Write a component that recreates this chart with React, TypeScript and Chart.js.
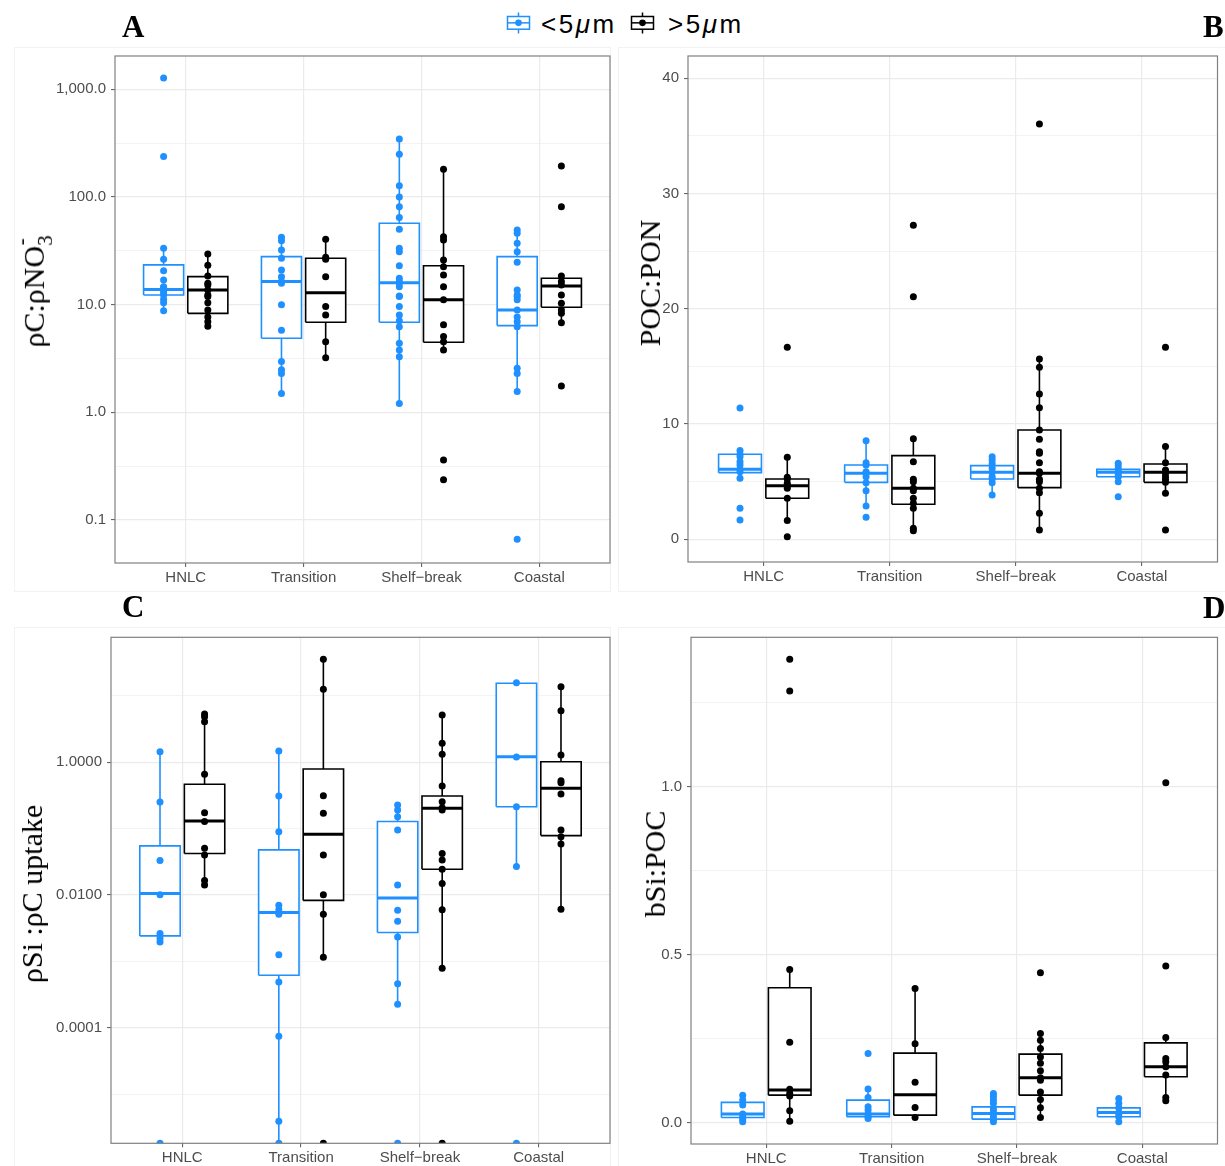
import React, { useEffect, useRef } from 'react';
import { Chart, registerables } from 'chart.js';

Chart.register(...registerables);

const CATEGORIES = ['HNLC', 'Transition', 'Shelf−break', 'Coastal'];
const GROUP_LABELS = ['<5', '>5'];
const BLUE = '#1E90FF';
const BLACK = '#000000';

// ---------- Panel A : pC:pNO3- (log) ----------
const A_SMALL = [
  [1274, 237, 33.4, 26.4, 20.7, 16.9, 14.7, 14.5, 13.5, 12.8, 12.3, 11.2, 10.4, 8.8],
  [42.3, 39.3, 32.2, 27, 21, 18.2, 16.4, 15.8, 10.0, 5.8, 2.96, 2.48, 2.3, 1.5],
  [346, 249, 127, 100, 81.3, 64.3, 50.2, 33.4, 31, 23, 17.6, 16.4, 15.8, 14.7, 12.05, 11.9, 9.6, 8.0, 7.1, 6.25, 4.39, 3.79, 3.29, 1.21],
  [49.4, 46, 37.2, 31, 24.8, 13.7, 12.3, 11.9, 11.1, 8.9, 7.7, 6.95, 6.25, 2.57, 2.3, 1.56, 0.0664],
];
const A_LARGE = [
  [29.6, 23.2, 18.5, 15.8, 15.2, 13.7, 12.3, 11.9, 10.4, 8.9, 7.7, 6.95, 6.3],
  [40.4, 27.5, 26.4, 18.2, 9.6, 8.0, 4.53, 3.22],
  [181, 42.8, 39.9, 26, 22.5, 18.9, 14.7, 11.1, 6.5, 5.05, 4.53, 3.79, 0.361, 0.236],
  [194, 81.3, 18.5, 16.4, 15.2, 12.3, 10.3, 8.9, 8.3, 6.8, 1.76],
];
// [lower whisker, q1, median, q3, upper whisker]
const A_SMALL_BOX = [
  [8.8, 12.3, 13.8, 23.4, 33.4],
  [1.5, 4.87, 16.4, 27.9, 42.3],
  [1.21, 6.86, 16, 57, 346],
  [1.56, 6.39, 8.9, 27.9, 49.4],
];
const A_LARGE_BOX = [
  [6.3, 8.3, 13.7, 18.2, 29.6],
  [3.22, 6.86, 12.9, 27, 40.4],
  [3.79, 4.48, 11.1, 23, 181],
  [6.8, 9.46, 14.9, 17.6, 18.5],
];
const A_TICKS = [0.1, 1, 10, 100, 1000];
const A_TICK_LABELS = ['0.1', '1.0', '10.0', '100.0', '1,000.0'];
const A_MINOR = [0.3162, 3.162, 31.62, 316.2];

// ---------- Panel B : POC:PON (linear) ----------
const B_SMALL = [
  [11.4, 7.7, 7.38, 7.17, 6.73, 6.45, 6.07, 5.87, 5.29, 2.69, 1.67],
  [8.56, 6.65, 6.45, 5.87, 5.73, 5.43, 4.91, 4.22, 2.89, 1.91],
  [7.17, 6.88, 6.55, 6.16, 5.81, 5.43, 5.23, 4.91, 3.84],
  [6.59, 6.36, 6.07, 5.81, 5.6, 5.43, 5.0, 3.7],
];
const B_LARGE = [
  [16.66, 7.11, 5.38, 5.23, 4.86, 4.65, 4.42, 3.56, 1.62, 0.23],
  [27.24, 21.05, 8.73, 6.73, 5.21, 5.0, 4.42, 4.22, 3.56, 3.12, 2.69, 0.95, 0.75],
  [36.04, 15.64, 14.92, 12.6, 11.42, 9.48, 8.68, 7.6, 7.46, 6.65, 5.87, 5.73, 5.21, 5.0, 4.42, 4.04, 2.26, 0.81],
  [16.66, 8.04, 6.65, 6.01, 5.81, 5.73, 5.43, 5.21, 4.94, 3.99, 0.81],
];
const B_SMALL_BOX = [
  [5.29, 5.78, 6.07, 7.38, 7.7],
  [2.89, 4.94, 5.73, 6.45, 8.56],
  [3.84, 5.23, 5.81, 6.39, 7.17],
  [5.0, 5.43, 5.81, 6.07, 6.59],
];
const B_LARGE_BOX = [
  [1.62, 3.56, 4.65, 5.23, 7.11],
  [0.75, 3.04, 4.42, 7.26, 8.73],
  [0.81, 4.48, 5.73, 9.48, 15.64],
  [3.99, 4.94, 5.81, 6.53, 8.04],
];
const B_TICKS = [0, 10, 20, 30, 40];
const B_TICK_LABELS = ['0', '10', '20', '30', '40'];
const B_MINOR = [5, 15, 25, 35];

// ---------- Panel C : pSi:pC uptake (log) ----------
const C_SMALL = [
  [1.44, 0.252, 0.033, 0.0101, 0.00263, 0.00221, 0.00196, 0],
  [1.48, 0.311, 0.09, 0.007, 0.006, 0.00513, 0.00126, 0.000488, 0.0000742, 0.0000039, 0],
  [0.228, 0.191, 0.151, 0.0955, 0.0142, 0.00588, 0.00402, 0.00233, 0.000462, 0.000226, 0],
  [15.8, 1.2, 0.214, 0.0268, 0],
];
const C_LARGE = [
  [5.34, 4.86, 4.09, 0.659, 0.174, 0.128, 0.0507, 0.0402, 0.0166, 0.0142],
  [35.6, 12.6, 0.314, 0.171, 0.0402, 0.0101, 0.00513, 0.00115, 0],
  [5.15, 1.93, 1.32, 0.44, 0.255, 0.207, 0.191, 0.0423, 0.0338, 0.0245, 0.0149, 0.006, 0.00079, 0],
  [13.8, 5.98, 1.29, 0.528, 0.493, 0.333, 0.0955, 0.0758, 0.0589, 0.0061],
];
const C_SMALL_BOX = [
  [0.00196, 0.00242, 0.0105, 0.055, 1.44],
  [0, 0.000617, 0.00543, 0.0478, 1.48],
  [0.000226, 0.00272, 0.00902, 0.128, 0.228],
  [0.0268, 0.214, 1.21, 15.5, 15.8],
];
const C_LARGE_BOX = [
  [0.0142, 0.0423, 0.13, 0.467, 5.34],
  [0.00115, 0.0083, 0.0823, 0.79, 35.6],
  [0.00079, 0.0245, 0.203, 0.311, 5.15],
  [0.0061, 0.0785, 0.406, 1.02, 13.8],
];
const C_TICKS = [0.0001, 0.01, 1];
const C_TICK_LABELS = ['0.0001', '0.0100', '1.0000'];
const C_MINOR = [0.00001, 0.001, 0.1, 10];

// ---------- Panel D : bSi:POC (linear) ----------
const D_SMALL = [
  [0.0824, 0.0676, 0.0527, 0.0259, 0.024, 0.016, 0.01, 0.003],
  [0.2065, 0.101, 0.0756, 0.0476, 0.0378, 0.0259, 0.0179, 0.0129],
  [0.0875, 0.078, 0.068, 0.058, 0.044, 0.035, 0.0278, 0.019, 0.011, 0.003],
  [0.0726, 0.058, 0.0446, 0.031, 0.0259, 0.018, 0.003],
];
const D_LARGE = [
  [1.379, 1.285, 0.4565, 0.24, 0.1, 0.0875, 0.0795, 0.0357, 0.005],
  [0.4, 0.235, 0.121, 0.0458, 0.016],
  [0.4465, 0.266, 0.246, 0.2214, 0.196, 0.177, 0.155, 0.134, 0.127, 0.092, 0.0696, 0.0446, 0.016],
  [1.012, 0.4664, 0.254, 0.1917, 0.1815, 0.1667, 0.142, 0.0756, 0.0655],
];
const D_SMALL_BOX = [
  [0.003, 0.016, 0.0259, 0.0607, 0.0824],
  [0.0129, 0.0179, 0.0259, 0.0676, 0.101],
  [0.003, 0.011, 0.0278, 0.0476, 0.0875],
  [0.003, 0.018, 0.031, 0.0446, 0.0726],
];
const D_LARGE_BOX = [
  [0.005, 0.0824, 0.0973, 0.402, 0.4565],
  [0.016, 0.0229, 0.0833, 0.2074, 0.4],
  [0.016, 0.0824, 0.134, 0.2045, 0.266],
  [0.0655, 0.137, 0.1667, 0.238, 0.254],
];
const D_TICKS = [0, 0.5, 1];
const D_TICK_LABELS = ['0.0', '0.5', '1.0'];
const D_MINOR = [0.25, 0.75, 1.25];

// ---------- layout ----------
const DODGE = 0.1875;
const HALF_W = 0.17;
const TICK_FONT = { family: "'Liberation Sans', Arial, Helvetica, sans-serif", size: 15 };
const TICK_COLOR = '#4D4D4D';
const GRID_COLOR = '#EBEBEB';
const AXIS_TICK_COLOR = '#555555';

type Spec = {
  canvas: { left: number; top: number; width: number; height: number };
  area: { left: number; top: number; right: number; bottom: number };
  log: boolean;
  yMin: number;
  yMax: number;
  ticks: number[];
  labels: string[];
  minor: number[];
  small: number[][];
  large: number[][];
  smallBox: number[][];
  largeBox: number[][];
};

const SPECS: Spec[] = [
  {
    canvas: { left: 0, top: 40, width: 615, height: 560 },
    area: { left: 115, top: 16, right: 610, bottom: 523 },
    log: true, yMin: 0.0399, yMax: 2037,
    ticks: A_TICKS, labels: A_TICK_LABELS, minor: A_MINOR,
    small: A_SMALL, large: A_LARGE, smallBox: A_SMALL_BOX, largeBox: A_LARGE_BOX,
  },
  {
    canvas: { left: 615, top: 40, width: 610, height: 560 },
    area: { left: 73, top: 16, right: 602.5, bottom: 522 },
    log: false, yMin: -1.97, yMax: 41.93,
    ticks: B_TICKS, labels: B_TICK_LABELS, minor: B_MINOR,
    small: B_SMALL, large: B_LARGE, smallBox: B_SMALL_BOX, largeBox: B_LARGE_BOX,
  },
  {
    canvas: { left: 0, top: 620, width: 615, height: 546 },
    area: { left: 111, top: 17.3, right: 610, bottom: 523.3 },
    log: true, yMin: 1.815e-6, yMax: 76.4,
    ticks: C_TICKS, labels: C_TICK_LABELS, minor: C_MINOR,
    small: C_SMALL, large: C_LARGE, smallBox: C_SMALL_BOX, largeBox: C_LARGE_BOX,
  },
  {
    canvas: { left: 615, top: 620, width: 610, height: 546 },
    area: { left: 76, top: 17.3, right: 602.5, bottom: 524 },
    log: false, yMin: -0.063, yMax: 1.4446,
    ticks: D_TICKS, labels: D_TICK_LABELS, minor: D_MINOR,
    small: D_SMALL, large: D_LARGE, smallBox: D_SMALL_BOX, largeBox: D_LARGE_BOX,
  },
];

const near = (a: number, b: number) => Math.abs(a - b) <= Math.abs(b) * 1e-6 + 1e-12;

const borderPlugin = {
  id: 'panelBorder',
  afterDatasetsDraw(chart: any) {
    const { ctx, chartArea: a } = chart;
    ctx.save();
    ctx.strokeStyle = '#808080';
    ctx.lineWidth = 1.2;
    ctx.strokeRect(a.left, a.top, a.right - a.left, a.bottom - a.top);
    ctx.restore();
  },
};

function buildDatasets(spec: Spec) {
  const ds: any[] = [];
  const fv = (v: number | null) => (v === null ? null : spec.log && v <= 0 ? spec.yMin : v);
  const groups: [number[][], number[][], string, number][] = [
    [spec.smallBox, spec.small, BLUE, -DODGE],
    [spec.largeBox, spec.large, BLACK, DODGE],
  ];
  groups.forEach(([boxes, pts, color, off]) => {
    boxes.forEach((b, i) => {
      const cx = i + 1 + off;
      const [lo, q1, med, q3, hi] = b.map(fv) as number[];
      ds.push({
        data: [{ x: cx, y: lo }, { x: cx, y: q1 }, { x: cx, y: null }, { x: cx, y: q3 }, { x: cx, y: hi }],
        borderColor: color, borderWidth: 1.6, pointRadius: 0, fill: false, spanGaps: false, order: 3,
      });
      ds.push({
        data: [
          { x: cx - HALF_W, y: q1 }, { x: cx + HALF_W, y: q1 }, { x: cx + HALF_W, y: q3 },
          { x: cx - HALF_W, y: q3 }, { x: cx - HALF_W, y: q1 },
        ],
        borderColor: color, borderWidth: 1.6, backgroundColor: '#ffffff', fill: 'shape',
        pointRadius: 0, borderJoinStyle: 'miter', order: 2,
      });
      ds.push({
        data: [{ x: cx - HALF_W, y: med }, { x: cx + HALF_W, y: med }],
        borderColor: color, borderWidth: 3, pointRadius: 0, fill: false, order: 1,
      });
    });
    const pdata: any[] = [];
    pts.forEach((arr, i) => arr.forEach((v) => pdata.push({ x: i + 1 + off, y: fv(v) })));
    ds.push({
      data: pdata, showLine: false, pointRadius: 3.5, pointBackgroundColor: color,
      pointBorderColor: color, pointBorderWidth: 0, order: 0, clip: 0,
    });
  });
  return ds;
}

function buildConfig(spec: Spec): any {
  const { canvas, area } = spec;
  const allTicks = [...spec.ticks, ...spec.minor]
    .filter((v) => v >= spec.yMin && v <= spec.yMax)
    .sort((a, b) => a - b);
  const isMajor = (v: number) => spec.ticks.some((t) => near(v, t));
  return {
    type: 'line',
    data: { datasets: buildDatasets(spec) },
    plugins: [borderPlugin],
    options: {
      responsive: false,
      maintainAspectRatio: false,
      animation: false,
      devicePixelRatio: 1,
      events: [],
      layout: { padding: { left: 0, top: area.top, right: canvas.width - area.right, bottom: 0 } },
      plugins: { legend: { display: false }, tooltip: { enabled: false }, title: { display: false } },
      scales: {
        x: {
          type: 'linear',
          min: 0.4,
          max: 4.6,
          afterBuildTicks: (s: any) => { s.ticks = [1, 2, 3, 4].map((v) => ({ value: v })); },
          afterFit: (s: any) => { s.height = canvas.height - area.bottom; },
          ticks: {
            autoSkip: false, maxRotation: 0, minRotation: 0, padding: 2,
            color: TICK_COLOR, font: TICK_FONT,
            callback: (v: number) => CATEGORIES[Math.round(v) - 1] ?? '',
          },
          grid: { color: GRID_COLOR, lineWidth: 1.2, tickColor: AXIS_TICK_COLOR, tickLength: 4, tickWidth: 1 },
          border: { display: false },
        },
        y: {
          type: spec.log ? 'logarithmic' : 'linear',
          min: spec.yMin,
          max: spec.yMax,
          afterBuildTicks: (s: any) => { s.ticks = allTicks.map((v) => ({ value: v })); },
          afterFit: (s: any) => { s.width = area.left; },
          ticks: {
            autoSkip: false, padding: 5, color: TICK_COLOR, font: TICK_FONT,
            callback: (v: number) => {
              const i = spec.ticks.findIndex((t) => near(v, t));
              return i >= 0 ? spec.labels[i] : '';
            },
          },
          grid: {
            color: GRID_COLOR,
            lineWidth: (c: any) => (c.tick && isMajor(c.tick.value) ? 1.2 : 0.6),
            tickColor: (c: any) => (c.tick && isMajor(c.tick.value) ? AXIS_TICK_COLOR : 'rgba(0,0,0,0)'),
            tickLength: 4,
            tickWidth: 1,
          },
          border: { display: false },
        },
      },
    },
  };
}

function Panel({ spec }: { spec: Spec }) {
  const ref = useRef<HTMLCanvasElement>(null);
  useEffect(() => {
    const chart = new Chart(ref.current as HTMLCanvasElement, buildConfig(spec));
    return () => chart.destroy();
  }, [spec]);
  const c = spec.canvas;
  return (
    <canvas
      ref={ref}
      width={c.width}
      height={c.height}
      style={{ position: 'absolute', left: c.left, top: c.top, width: c.width, height: c.height }}
    />
  );
}

function KeyIcon({ color, left }: { color: string; left: number }) {
  return (
    <svg width={25} height={22} viewBox="0 0 25 22" style={{ position: 'absolute', left, top: 12 }}>
      <line x1={12.5} y1={0.5} x2={12.5} y2={4.5} stroke={color} strokeWidth={1.5} />
      <line x1={12.5} y1={17.2} x2={12.5} y2={21.5} stroke={color} strokeWidth={1.5} />
      <rect x={1.5} y={4.5} width={22} height={12.7} fill="#ffffff" stroke={color} strokeWidth={1.5} />
      <line x1={1.5} y1={10.85} x2={23.5} y2={10.85} stroke={color} strokeWidth={1.5} />
      <circle cx={12.5} cy={10.85} r={3.3} fill={color} />
    </svg>
  );
}

const serif = "'Liberation Serif', 'Times New Roman', Times, serif";
const sans = "'Liberation Sans', Arial, Helvetica, sans-serif";

function YTitle({ x, y, children }: { x: number; y: number; children: React.ReactNode }) {
  return (
    <div
      style={{
        position: 'absolute', left: x, top: y, transform: 'translate(-50%, -50%) rotate(-90deg)',
        fontFamily: serif, fontSize: 30, lineHeight: '30px', whiteSpace: 'nowrap', color: '#000',
      }}
    >
      {children}
    </div>
  );
}

function Letter({ x, y, text }: { x: number; y: number; text: string }) {
  return (
    <div
      style={{
        position: 'absolute', left: x, top: y, fontFamily: serif, fontWeight: 'bold',
        fontSize: 31, lineHeight: '31px', color: '#000',
      }}
    >
      {text}
    </div>
  );
}

function LegendText({ x, prefix }: { x: number; prefix: string }) {
  return (
    <div
      style={{
        position: 'absolute', left: x, top: 11.3, fontFamily: sans, fontSize: 26, lineHeight: '26px',
        letterSpacing: 2.5, whiteSpace: 'nowrap', color: '#000',
      }}
    >
      {prefix}
      <span style={{ fontStyle: 'italic' }}>μ</span>m
    </div>
  );
}

const faint = { position: 'absolute' as const, border: '1px solid #F2F2F2', boxSizing: 'border-box' as const };

export default function App() {
  return (
    <div
      style={{
        position: 'absolute', left: 0, top: 0, width: 1225, height: 1166, background: '#ffffff', overflow: 'hidden',
      }}
    >
      <div style={{ ...faint, left: 14, top: 47, width: 597, height: 545 }} />
      <div style={{ ...faint, left: 618, top: 47, width: 610, height: 545 }} />
      <div style={{ ...faint, left: 14, top: 627, width: 597, height: 545 }} />
      <div style={{ ...faint, left: 618, top: 627, width: 610, height: 545 }} />

      {SPECS.map((s, i) => (
        <Panel key={i} spec={s} />
      ))}

      <KeyIcon color={BLUE} left={506} />
      <LegendText x={541} prefix={GROUP_LABELS[0]} />
      <KeyIcon color={BLACK} left={630} />
      <LegendText x={668} prefix={GROUP_LABELS[1]} />

      <Letter x={122} y={10.7} text="A" />
      <Letter x={1203} y={10.7} text="B" />
      <Letter x={122} y={591} text="C" />
      <Letter x={1203} y={592} text="D" />

      <YTitle x={33} y={293}>
        ρC:ρNO
        <span style={{ fontSize: 21, verticalAlign: '-0.4em' }}>3</span>
        <span style={{ fontSize: 21, verticalAlign: '0.75em', marginLeft: -10 }}>-</span>
      </YTitle>
      <YTitle x={650} y={283}>POC:PON</YTitle>
      <YTitle x={32} y={894}>ρSi :ρC uptake</YTitle>
      <YTitle x={655} y={864}>bSi:POC</YTitle>
    </div>
  );
}
